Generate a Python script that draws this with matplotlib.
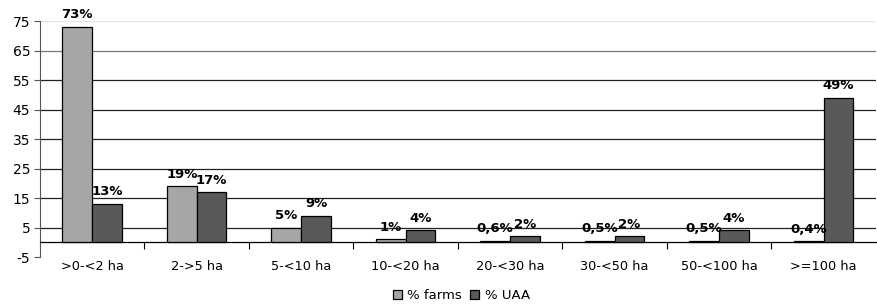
import numpy as np
import matplotlib.pyplot as plt

# data
categories = [">0-<2 ha", "2->5 ha", "5-<10 ha", "10-<20 ha", "20-<30 ha",
              "30-<50 ha", "50-<100 ha", ">=100 ha"]
farms = [73, 19, 5, 1, 0.6, 0.5, 0.5, 0.4]
uaa = [13, 17, 9, 4, 2, 2, 4, 49]
farms_labels = ["73%", "19%", "5%", "1%", "0,6%", "0,5%", "0,5%", "0,4%"]
uaa_labels = ["13%", "17%", "9%", "4%", "2%", "2%", "4%", "49%"]

plt.rcParams["font.family"] = ["DejaVu Sans"]
plt.rcParams["axes.unicode_minus"] = False

fig = plt.figure(figsize=(8.77, 3.06), dpi=100)
ax = fig.add_axes([0.0456, 0.160, 0.953, 0.771])

x = np.arange(len(categories))
w = 0.285
b1 = ax.bar(x - w / 2, farms, w, color="#a6a6a6", edgecolor="black",
            linewidth=0.9, label="% farms", zorder=3)
b2 = ax.bar(x + w / 2, uaa, w, color="#595959", edgecolor="black",
            linewidth=0.9, label="% UAA", zorder=3)

for bars, labels in [(b1, farms_labels), (b2, uaa_labels)]:
    for rect, lab in zip(bars, labels):
        ax.annotate(lab, (rect.get_x() + rect.get_width() / 2, rect.get_height()),
                    xytext=(0, 4), textcoords="offset points", ha="center",
                    va="bottom", fontsize=9.5, fontweight="bold", zorder=4)

ax.set_xlim(-0.5, len(categories) - 0.5)
ax.set_ylim(-5, 75)
ax.set_yticks(np.arange(-5, 76, 10))
ax.tick_params(axis="y", labelsize=10, length=4, width=0.8, color="#555555", pad=3)

# horizontal gridlines (top one is faint in the original)
for yv in np.arange(5, 76, 10):
    col = "#e4e4e4" if yv == 75 else ("#777777" if yv == 65 else "#222222")
    ax.axhline(yv, color=col, linewidth=0.9, zorder=1)

ax.set_xticks(x)
ax.set_xticklabels(categories)
ax.set_xticks(np.arange(0.5, len(categories) - 0.5, 1), minor=True)
ax.tick_params(axis="x", which="major", length=0, pad=13, labelsize=9.3)
ax.tick_params(axis="x", which="minor", length=5, width=0.8, direction="out")

ax.spines["bottom"].set_position(("data", 0))
ax.spines["bottom"].set_linewidth(0.9)
ax.spines["left"].set_color("#555555")
ax.spines["top"].set_visible(False)
ax.spines["right"].set_visible(False)

fig.legend(loc="lower center", bbox_to_anchor=(0.526, -0.025), ncol=2,
           frameon=False, fontsize=9.5, handlelength=0.7, handleheight=0.7,
           handletextpad=0.4, columnspacing=0.6)

fig.savefig("out.png", dpi=100)
